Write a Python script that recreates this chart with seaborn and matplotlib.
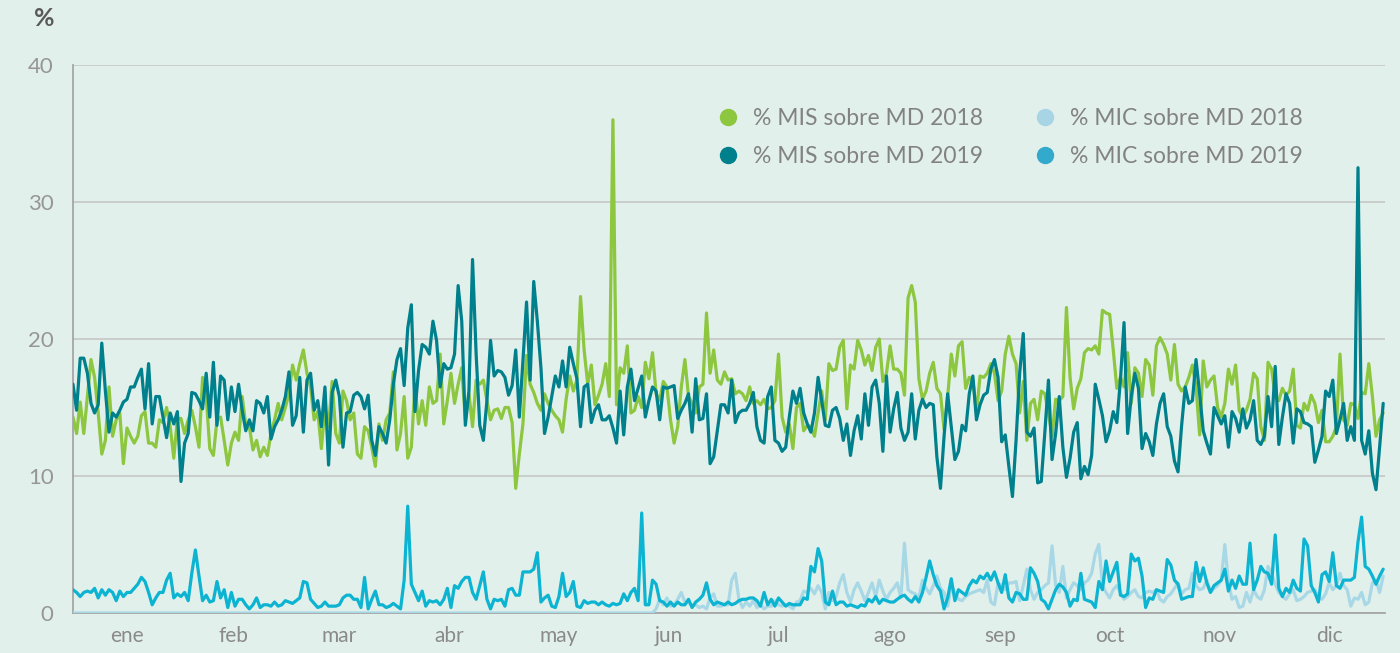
import pandas as pd
import matplotlib
matplotlib.use("Agg")
import matplotlib.pyplot as plt
from matplotlib.lines import Line2D
import seaborn as sns

# Datos diarios 2018/2019 (%)
mis_2018 = [
    14.3, 13.1, 15.4, 13.1, 15.8, 18.5, 17.2, 14.6, 11.6, 12.6,
    16.5, 12.9, 14.1, 14.6, 10.9, 13.5, 12.9, 12.4, 12.9, 14.4,
    14.7, 12.4, 12.4, 12.1, 14.1, 13.9, 15.0, 13.6, 11.3, 14.2,
    14.2, 13.1, 14.1, 14.8, 13.6, 12.1, 17.2, 15.8, 12.0, 11.5,
    14.1, 14.3, 12.6, 10.8, 12.4, 13.2, 12.6, 15.8, 13.7, 13.6,
    11.9, 12.6, 11.4, 12.1, 11.5, 13.1, 14.1, 15.3, 14.1, 15.0,
    16.0, 18.1, 17.0, 18.2, 19.2, 17.5, 16.5, 14.1, 14.7, 12.0,
    15.0, 13.6, 16.9, 13.1, 12.4, 16.2, 15.5, 14.1, 14.6, 11.6,
    11.3, 13.6, 13.3, 12.1, 10.7, 13.8, 12.6, 14.1, 14.6, 17.6,
    11.9, 13.1, 15.8, 11.3, 12.1, 16.7, 13.8, 15.5, 13.7, 16.5,
    15.3, 15.5, 18.9, 13.8, 15.5, 17.5, 15.3, 16.7, 17.9, 14.1,
    16.0, 13.6, 17.0, 16.7, 17.0, 15.5, 14.1, 14.8, 14.9, 14.2,
    15.0, 15.0, 13.9, 9.1, 11.6, 13.8, 18.8, 16.7, 16.1, 15.3,
    14.8, 16.0, 15.3, 14.8, 14.4, 14.1, 13.2, 15.6, 17.3, 16.2,
    17.0, 23.1, 19.2, 16.7, 18.1, 15.2, 15.9, 16.7, 18.2, 15.8,
    36.0, 15.2, 17.9, 17.5, 19.5, 14.6, 14.8, 15.8, 15.0, 18.3,
    17.1, 19.0, 16.0, 15.5, 16.9, 16.5, 14.1, 12.4, 13.6, 16.5,
    18.5, 15.8, 15.3, 14.6, 16.5, 16.7, 21.9, 17.5, 19.2, 17.0,
    16.7, 17.6, 17.0, 17.1, 16.0, 16.2, 16.0, 15.5, 16.5, 15.3,
    15.5, 15.2, 15.6, 14.9, 15.0, 15.5, 18.9, 14.3, 13.2, 13.8,
    12.0, 15.0, 15.3, 13.3, 13.7, 13.6, 12.9, 14.6, 16.2, 14.1,
    18.2, 17.7, 17.8, 19.4, 19.9, 14.9, 18.1, 17.8, 19.9, 19.2,
    18.1, 18.8, 17.7, 19.4, 20.0, 16.9, 17.5, 19.5, 17.8, 17.8,
    17.5, 15.9, 23.0, 23.9, 22.7, 17.1, 15.6, 16.2, 17.5, 18.3,
    16.4, 16.0, 13.4, 15.8, 18.9, 17.3, 19.5, 19.8, 16.4, 17.2,
    17.0, 14.6, 17.3, 17.2, 17.5, 18.2, 17.5, 15.5, 16.2, 18.9,
    20.2, 18.9, 18.2, 14.6, 16.9, 12.6, 15.3, 15.6, 14.1, 16.2,
    16.0, 14.6, 12.9, 15.6, 15.5, 15.8, 22.3, 17.2, 14.9, 16.4,
    17.1, 19.0, 19.3, 19.2, 19.5, 18.9, 22.1, 21.9, 21.8, 19.2,
    16.4, 17.2, 16.5, 19.0, 15.3, 17.9, 17.5, 15.8, 18.5, 18.1,
    15.9, 19.5, 20.1, 19.6, 18.9, 17.0, 19.6, 16.7, 16.2, 16.5,
    17.2, 18.1, 16.5, 13.0, 18.4, 16.5, 17.0, 17.3, 15.0, 14.3,
    15.3, 17.8, 16.7, 18.1, 14.8, 14.3, 14.8, 15.6, 17.5, 17.1,
    13.6, 12.6, 18.3, 17.8, 15.8, 15.5, 16.4, 15.9, 16.2, 17.8,
    13.7, 13.5, 15.3, 14.8, 15.9, 15.3, 13.9, 14.8, 12.5, 12.5,
    12.9, 13.6, 18.9, 14.1, 13.7, 15.3, 15.2, 14.2, 16.1, 16.0,
    18.2, 15.8, 12.9, 14.1, 14.6,
]

mis_2019 = [
    16.7, 14.8, 18.6, 18.6, 17.5, 15.3, 14.6, 15.2, 19.7, 16.2,
    13.2, 14.6, 14.3, 14.8, 15.4, 15.6, 16.5, 16.5, 17.2, 17.8,
    14.9, 18.2, 13.8, 15.8, 15.8, 14.3, 12.8, 14.6, 13.8, 14.7,
    9.6, 12.4, 13.1, 16.1, 16.0, 15.5, 14.9, 17.5, 14.3, 18.3,
    13.7, 17.3, 17.0, 14.1, 16.5, 14.7, 16.7, 14.8, 13.3, 14.1,
    13.3, 15.5, 15.3, 14.6, 15.8, 12.7, 13.6, 14.1, 14.8, 15.8,
    17.6, 13.7, 14.4, 17.2, 13.2, 17.0, 17.5, 14.8, 15.5, 13.6,
    16.5, 10.8, 16.1, 17.0, 15.8, 12.1, 14.6, 14.7, 15.9, 16.1,
    15.8, 14.9, 15.9, 12.6, 11.5, 13.6, 13.1, 12.4, 14.1, 16.7,
    18.5, 19.3, 16.6, 20.8, 22.5, 14.7, 17.7, 19.6, 19.4, 18.9,
    21.3, 19.9, 16.5, 18.2, 17.8, 17.9, 18.9, 23.9, 21.3, 13.7,
    16.2, 25.8, 18.9, 13.7, 12.6, 15.5, 19.9, 17.3, 17.7, 17.6,
    17.2, 15.9, 16.6, 19.2, 14.3, 18.4, 22.7, 17.0, 24.2, 21.3,
    17.9, 13.1, 14.3, 15.8, 17.3, 16.5, 18.4, 16.5, 19.4, 18.2,
    17.1, 13.6, 16.5, 16.7, 13.9, 14.8, 15.2, 14.1, 14.1, 14.4,
    13.5, 12.4, 16.2, 13.0, 16.5, 17.8, 15.5, 16.4, 17.3, 14.3,
    15.5, 16.5, 16.2, 14.1, 16.5, 16.4, 16.5, 16.6, 14.2, 14.8,
    15.3, 16.0, 13.2, 17.1, 14.1, 14.2, 16.0, 10.9, 11.4, 13.3,
    15.2, 15.2, 14.6, 17.0, 13.9, 14.6, 14.8, 14.8, 15.3, 16.1,
    13.6, 12.6, 12.4, 15.8, 16.5, 12.6, 12.4, 11.8, 12.1, 14.3,
    16.2, 15.3, 16.4, 14.6, 13.8, 13.2, 14.6, 17.2, 15.5, 13.7,
    13.6, 14.8, 15.0, 14.2, 12.6, 13.8, 11.5, 13.3, 14.4, 12.7,
    16.0, 13.7, 16.5, 17.0, 15.3, 11.8, 17.3, 13.2, 14.9, 16.1,
    13.5, 12.6, 13.2, 16.0, 12.7, 14.8, 15.6, 15.0, 15.3, 15.2,
    11.4, 9.1, 12.9, 16.0, 13.6, 11.2, 11.8, 13.7, 13.3, 16.0,
    17.3, 14.1, 15.2, 15.9, 16.1, 17.8, 18.5, 17.2, 12.5, 13.0,
    10.7, 8.5, 12.6, 17.5, 20.4, 13.2, 12.9, 13.5, 9.5, 9.6,
    13.2, 17.0, 11.2, 13.1, 15.8, 12.1, 9.9, 11.3, 13.2, 13.9,
    9.8, 10.7, 10.1, 11.5, 16.7, 15.6, 14.4, 12.5, 13.3, 14.7,
    13.9, 17.0, 21.2, 13.1, 15.8, 17.5, 16.4, 12.0, 13.1, 12.5,
    11.5, 13.8, 15.3, 16.0, 13.6, 12.9, 11.1, 10.3, 13.7, 16.5,
    15.3, 15.5, 18.5, 16.0, 13.3, 12.4, 11.6, 15.0, 14.4, 13.8,
    14.4, 12.1, 14.7, 14.2, 13.2, 14.9, 13.5, 14.1, 15.5, 12.6,
    12.3, 12.9, 15.8, 13.6, 18.0, 12.3, 14.3, 16.0, 15.3, 12.4,
    14.9, 14.7, 13.9, 13.8, 13.6, 11.0, 11.9, 12.9, 16.2, 15.8,
    17.0, 13.1, 14.1, 15.3, 12.6, 13.6, 12.6, 32.5, 12.6, 11.6,
    13.3, 10.2, 9.0, 12.1, 15.3,
]

mic_2018 = [
    0.0, 0.0, 0.0, 0.0, 0.0, 0.0, 0.0, 0.0, 0.0, 0.0,
    0.0, 0.0, 0.0, 0.0, 0.0, 0.0, 0.0, 0.0, 0.0, 0.0,
    0.0, 0.0, 0.0, 0.0, 0.0, 0.0, 0.0, 0.0, 0.0, 0.0,
    0.0, 0.0, 0.0, 0.0, 0.0, 0.0, 0.0, 0.0, 0.0, 0.0,
    0.0, 0.0, 0.0, 0.0, 0.0, 0.0, 0.0, 0.0, 0.0, 0.0,
    0.0, 0.0, 0.0, 0.0, 0.0, 0.0, 0.0, 0.0, 0.0, 0.0,
    0.0, 0.0, 0.0, 0.0, 0.0, 0.0, 0.0, 0.0, 0.0, 0.0,
    0.0, 0.0, 0.0, 0.0, 0.0, 0.0, 0.0, 0.0, 0.0, 0.0,
    0.0, 0.0, 0.0, 0.0, 0.0, 0.0, 0.0, 0.0, 0.0, 0.0,
    0.0, 0.0, 0.0, 0.0, 0.0, 0.0, 0.0, 0.0, 0.0, 0.0,
    0.0, 0.0, 0.0, 0.0, 0.0, 0.0, 0.0, 0.0, 0.0, 0.0,
    0.0, 0.0, 0.0, 0.0, 0.0, 0.0, 0.0, 0.0, 0.0, 0.0,
    0.0, 0.0, 0.0, 0.0, 0.0, 0.0, 0.0, 0.0, 0.0, 0.0,
    0.0, 0.0, 0.0, 0.0, 0.0, 0.0, 0.0, 0.0, 0.0, 0.0,
    0.0, 0.0, 0.0, 0.0, 0.0, 0.0, 0.0, 0.0, 0.0, 0.0,
    0.0, 0.0, 0.0, 0.0, 0.0, 0.0, 0.0, 0.0, 0.0, 0.0,
    0.0, 0.0, 0.3, 1.0, 0.6, 1.1, 0.5, 0.6, 1.0, 1.5,
    0.8, 0.8, 0.5, 0.6, 0.4, 0.5, 0.3, 1.1, 1.4, 0.5,
    0.5, 0.6, 0.6, 2.4, 2.9, 1.0, 0.4, 0.8, 0.5, 0.9,
    0.4, 0.6, 0.3, 0.5, 0.5, 0.9, 0.6, 0.5, 0.6, 0.5,
    0.3, 0.8, 0.9, 1.6, 1.5, 1.8, 1.4, 2.0, 1.5, 0.3,
    1.5, 0.9, 1.2, 2.2, 2.8, 1.5, 0.8, 1.7, 2.2, 1.6,
    0.9, 1.5, 2.2, 1.2, 2.4, 1.6, 1.0, 1.5, 1.8, 2.2,
    1.1, 5.1, 1.7, 1.5, 1.4, 1.1, 2.4, 1.8, 1.4, 2.0,
    2.7, 1.8, 1.5, 0.5, 2.0, 1.5, 1.0, 0.9, 1.2, 1.4,
    1.5, 1.6, 1.7, 1.5, 2.4, 0.8, 0.6, 2.2, 2.0, 1.7,
    2.2, 2.2, 2.3, 0.9, 2.0, 3.2, 1.7, 1.0, 1.5, 1.7,
    2.0, 2.2, 4.9, 2.0, 1.5, 3.4, 1.1, 1.7, 2.2, 2.0,
    1.7, 2.2, 2.4, 2.9, 4.3, 5.0, 2.0, 1.5, 1.1, 1.7,
    2.0, 1.5, 1.0, 1.2, 1.5, 1.7, 1.2, 1.1, 1.5, 1.6,
    1.5, 1.7, 1.0, 0.8, 1.2, 1.4, 1.8, 2.2, 1.4, 1.7,
    1.8, 2.9, 2.0, 1.7, 1.8, 2.4, 1.5, 1.8, 2.0, 2.4,
    5.0, 2.2, 1.0, 1.2, 0.4, 0.5, 1.5, 0.8, 1.7, 1.2,
    1.0, 1.7, 3.4, 2.9, 2.1, 1.5, 1.2, 1.0, 1.4, 1.7,
    0.9, 1.0, 1.2, 1.5, 1.6, 1.7, 1.2, 1.0, 1.4, 2.2,
    1.7, 2.0, 2.9, 2.0, 1.7, 0.5, 1.1, 1.0, 1.5, 0.6,
    0.8, 2.2, 2.4, 1.5, 2.7,
]

mic_2019 = [
    1.7, 1.5, 1.2, 1.5, 1.6, 1.5, 1.8, 1.1, 1.7, 1.3,
    1.7, 1.5, 0.9, 1.6, 1.2, 1.5, 1.5, 1.8, 2.1, 2.6,
    2.3, 1.5, 0.6, 1.1, 1.5, 1.5, 2.4, 2.9, 1.1, 1.4,
    1.2, 1.5, 0.9, 2.9, 4.6, 2.7, 0.9, 1.3, 0.8, 0.9,
    2.3, 1.1, 1.7, 0.4, 1.5, 0.5, 1.0, 1.0, 0.6, 0.3,
    0.6, 1.1, 0.4, 0.6, 0.6, 0.5, 0.8, 0.5, 0.6, 0.9,
    0.8, 0.7, 0.9, 1.1, 2.3, 2.2, 1.0, 0.7, 0.4, 0.5,
    0.8, 0.5, 0.5, 0.5, 0.6, 1.1, 1.3, 1.3, 1.0, 1.0,
    0.4, 2.6, 0.3, 1.0, 1.6, 0.6, 0.6, 0.4, 0.5, 0.7,
    0.5, 0.3, 2.4, 7.8, 2.1, 1.5, 0.9, 1.6, 0.5, 0.9,
    0.8, 0.9, 0.6, 1.0, 1.8, 0.4, 2.0, 1.8, 2.3, 2.6,
    2.6, 1.5, 1.0, 2.0, 3.0, 1.0, 0.3, 1.0, 0.9, 1.0,
    0.5, 1.7, 1.8, 1.3, 1.3, 3.0, 3.0, 3.0, 3.2, 4.4,
    0.8, 1.1, 1.3, 0.5, 0.4, 1.2, 2.9, 1.2, 1.5, 2.3,
    0.5, 0.4, 0.9, 0.7, 0.8, 0.8, 0.6, 0.8, 0.6, 0.5,
    0.7, 0.6, 0.7, 1.4, 0.9, 1.5, 1.8, 0.9, 7.3, 0.6,
    0.6, 2.4, 2.1, 0.9, 0.8, 0.5, 0.8, 0.5, 0.8, 0.6,
    0.6, 1.0, 0.4, 0.8, 1.0, 1.3, 2.2, 1.0, 0.6, 0.8,
    0.7, 0.6, 0.8, 0.6, 0.7, 0.9, 1.0, 1.0, 1.1, 1.1,
    0.9, 0.5, 1.5, 0.6, 1.0, 0.5, 1.1, 0.8, 0.5, 0.7,
    0.6, 0.6, 0.6, 1.1, 1.0, 3.4, 3.0, 4.7, 3.8, 0.8,
    0.6, 1.6, 0.6, 0.8, 0.8, 0.5, 0.6, 0.5, 0.4, 0.6,
    0.5, 1.0, 0.8, 1.2, 0.7, 1.0, 0.9, 0.8, 0.8, 1.0,
    1.2, 1.3, 1.0, 0.8, 1.2, 0.8, 1.5, 2.6, 3.8, 2.8,
    2.0, 1.6, 0.3, 1.1, 2.5, 0.9, 1.7, 1.5, 1.3, 2.0,
    2.4, 2.2, 2.7, 2.5, 2.9, 2.4, 3.0, 2.2, 1.5, 2.8,
    1.1, 0.8, 1.5, 1.4, 1.0, 1.0, 3.3, 2.9, 2.3, 1.0,
    0.8, 0.3, 1.0, 1.7, 2.1, 1.9, 1.5, 0.5, 1.0, 0.9,
    2.9, 1.0, 0.9, 0.8, 0.4, 2.3, 1.7, 3.8, 2.3, 3.0,
    3.7, 1.3, 1.2, 1.4, 4.3, 3.8, 4.0, 2.7, 0.4, 1.1,
    1.0, 1.7, 1.6, 1.5, 3.9, 3.5, 2.4, 2.1, 1.0, 1.1,
    1.2, 1.2, 3.7, 2.3, 3.3, 2.2, 1.5, 2.0, 2.2, 2.4,
    3.2, 1.6, 2.4, 1.8, 2.7, 2.1, 2.1, 5.1, 1.7, 2.4,
    3.4, 3.0, 2.9, 2.1, 5.7, 1.8, 1.2, 1.8, 1.5, 2.4,
    1.8, 1.6, 5.4, 4.9, 2.0, 1.5, 0.8, 2.8, 3.0, 2.3,
    4.4, 2.0, 1.8, 2.4, 2.4, 2.4, 2.6, 5.2, 7.0, 3.4,
    3.2, 2.7, 2.1, 2.7, 3.2,
]

series_names = ["% MIS sobre MD 2018", "% MIS sobre MD 2019",
                "% MIC sobre MD 2018", "% MIC sobre MD 2019"]
month_labels = ["ene", "feb", "mar", "abr", "may", "jun",
                "jul", "ago", "sep", "oct", "nov", "dic"]
y_ticks = [0, 10, 20, 30, 40]

line_colors = {
    "% MIS sobre MD 2018": "#8dc63f",
    "% MIS sobre MD 2019": "#00808c",
    "% MIC sobre MD 2018": "#a8d8e6",
    "% MIC sobre MD 2019": "#0cb4d2",
}
legend_colors = {
    "% MIS sobre MD 2018": "#8dc63f",
    "% MIS sobre MD 2019": "#00808c",
    "% MIC sobre MD 2018": "#a8d5e5",
    "% MIC sobre MD 2019": "#33a9cc",
}

fechas = pd.date_range("2019-01-01", periods=365, freq="D")
frames = []
for name, vals in zip(series_names, [mis_2018, mis_2019, mic_2018, mic_2019]):
    assert len(vals) == 365, name
    frames.append(pd.DataFrame({"fecha": fechas, "valor": vals, "serie": name}))
df = pd.concat(frames, ignore_index=True)

bg = "#e2f0eb"
sns.set_theme(style="white")
plt.rcParams["font.family"] = ["Lato", "DejaVu Sans"]

fig = plt.figure(figsize=(14, 6.53), dpi=100, facecolor=bg)
ax = fig.add_axes([73 / 1400, 1 - 613 / 653, (1385 - 73) / 1400, (613 - 65) / 653])
ax.set_facecolor(bg)

sns.lineplot(data=df, x="fecha", y="valor", hue="serie", hue_order=series_names,
             palette=line_colors, linewidth=2.3, estimator=None, legend=False,
             ax=ax, zorder=3)

ax.set_xlim(fechas[0], fechas[0] + pd.Timedelta(days=364.5))
ax.set_ylim(0, 40)

# etiquetas de mes centradas en cada mes
mid_months = []
for m in range(1, 13):
    ini = pd.Timestamp(2019, m, 1)
    fin = ini + pd.offsets.MonthEnd(0)
    mid_months.append(ini + (fin - ini) / 2)
ax.set_xticks(mid_months)
ax.set_xticklabels(month_labels)
ax.set_yticks(y_ticks)
ax.set_yticklabels([str(v) for v in y_ticks])
ax.tick_params(axis="x", length=0, pad=9, labelsize=15, labelcolor="#8a8a8a")
ax.tick_params(axis="y", length=0, pad=14, labelsize=16, labelcolor="#969696")

ax.set_xlabel("")
ax.set_ylabel("")
ax.grid(axis="y", color="#c4c7c5", linewidth=1.2, zorder=0)
ax.grid(axis="x", visible=False)
for side in ["top", "right"]:
    ax.spines[side].set_visible(False)
ax.spines["left"].set_color("#a4a6a5")
ax.spines["left"].set_linewidth(1.3)
ax.spines["bottom"].set_color("#a4a6a5")
ax.spines["bottom"].set_linewidth(1.3)

fig.text(44 / 1400, 1 - 19 / 653, "%", ha="center", va="center",
         fontsize=18, fontweight="bold", color="#5a5a5a")

handles = [Line2D([], [], marker="o", linestyle="", markersize=11.5,
                  markerfacecolor=legend_colors[n], markeredgecolor=legend_colors[n])
           for n in series_names]
leg = ax.legend(handles, series_names, ncol=2, frameon=False,
                loc="upper left", bbox_to_anchor=(696 / 1400, 1 - 87 / 653),
                bbox_transform=fig.transFigure, fontsize=16.5,
                handlelength=1.0, handletextpad=0.6, columnspacing=2.2,
                labelspacing=0.75, labelcolor="#828282")

fig.savefig("out.png", dpi=100, facecolor=bg)
